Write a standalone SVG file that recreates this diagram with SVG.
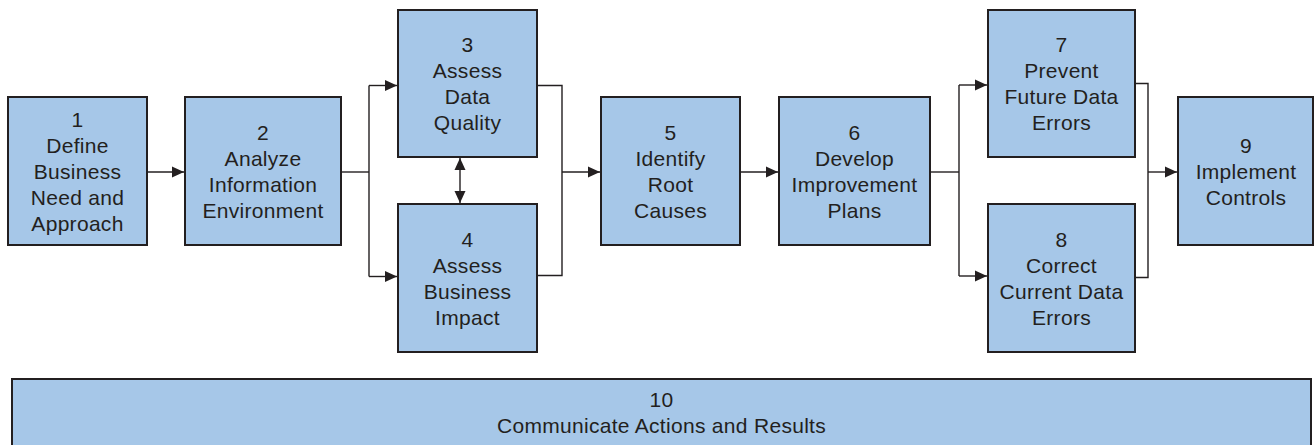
<svg xmlns="http://www.w3.org/2000/svg" width="1315" height="445" viewBox="0 0 1315 445">
<defs>
<style>
.box{fill:#a6c7e8;stroke:#231f20;stroke-width:2}
.lbl{font-family:"Liberation Sans",Arial,Helvetica,sans-serif;font-size:21px;fill:#231f20;text-anchor:middle;letter-spacing:0.3px}
.con{fill:none;stroke:#231f20;stroke-width:1.4}
</style>
<marker id="ah" viewBox="0 0 12 12" refX="12" refY="6" markerWidth="12" markerHeight="12" markerUnits="userSpaceOnUse" orient="auto-start-reverse">
<path d="M0 0.5 L12 6 L0 11.5 Z" fill="#231f20"/>
</marker>
</defs>
<rect width="1315" height="445" fill="#ffffff"/>
<g id="connectors">
<path class="con" d="M147 172 H184" marker-end="url(#ah)"/>
<path class="con" d="M341 172 H369"/>
<path class="con" d="M369 85.5 V276.5"/>
<path class="con" d="M369 85.5 H397" marker-end="url(#ah)"/>
<path class="con" d="M369 276.5 H397" marker-end="url(#ah)"/>
<path class="con" d="M460 158 V203" marker-start="url(#ah)" marker-end="url(#ah)"/>
<path class="con" d="M537 85.5 H562 V275.5 H537"/>
<path class="con" d="M562 172 H600" marker-end="url(#ah)"/>
<path class="con" d="M740 172 H778" marker-end="url(#ah)"/>
<path class="con" d="M930 172 H959"/>
<path class="con" d="M959 85 V276"/>
<path class="con" d="M959 85 H987" marker-end="url(#ah)"/>
<path class="con" d="M959 276 H987" marker-end="url(#ah)"/>
<path class="con" d="M1135 83.5 H1148 V277.5 H1135"/>
<path class="con" d="M1148 172 H1177" marker-end="url(#ah)"/>
</g>
<g id="n1"><rect class="box" x="8" y="97" width="139" height="148"/>
<text class="lbl" x="77.5" y="127">1</text><text class="lbl" x="77.5" y="153">Define</text><text class="lbl" x="77.5" y="179">Business</text><text class="lbl" x="77.5" y="205">Need and</text><text class="lbl" x="77.5" y="231">Approach</text></g>
<g id="n2"><rect class="box" x="185" y="97" width="156" height="148"/>
<text class="lbl" x="263" y="140">2</text><text class="lbl" x="263" y="166">Analyze</text><text class="lbl" x="263" y="192">Information</text><text class="lbl" x="263" y="218">Environment</text></g>
<g id="n3"><rect class="box" x="398" y="10" width="139" height="147"/>
<text class="lbl" x="467.5" y="52">3</text><text class="lbl" x="467.5" y="78">Assess</text><text class="lbl" x="467.5" y="104">Data</text><text class="lbl" x="467.5" y="130">Quality</text></g>
<g id="n4"><rect class="box" x="398" y="204" width="139" height="148"/>
<text class="lbl" x="467.5" y="247">4</text><text class="lbl" x="467.5" y="273">Assess</text><text class="lbl" x="467.5" y="299">Business</text><text class="lbl" x="467.5" y="325">Impact</text></g>
<g id="n5"><rect class="box" x="601" y="97" width="139" height="148"/>
<text class="lbl" x="670.5" y="140">5</text><text class="lbl" x="670.5" y="166">Identify</text><text class="lbl" x="670.5" y="192">Root</text><text class="lbl" x="670.5" y="218">Causes</text></g>
<g id="n6"><rect class="box" x="779" y="97" width="151" height="148"/>
<text class="lbl" x="854.5" y="140">6</text><text class="lbl" x="854.5" y="166">Develop</text><text class="lbl" x="854.5" y="192">Improvement</text><text class="lbl" x="854.5" y="218">Plans</text></g>
<g id="n7"><rect class="box" x="988" y="10" width="147" height="147"/>
<text class="lbl" x="1061.5" y="52">7</text><text class="lbl" x="1061.5" y="78">Prevent</text><text class="lbl" x="1061.5" y="104">Future Data</text><text class="lbl" x="1061.5" y="130">Errors</text></g>
<g id="n8"><rect class="box" x="988" y="204" width="147" height="148"/>
<text class="lbl" x="1061.5" y="247">8</text><text class="lbl" x="1061.5" y="273">Correct</text><text class="lbl" x="1061.5" y="299">Current Data</text><text class="lbl" x="1061.5" y="325">Errors</text></g>
<g id="n9"><rect class="box" x="1178" y="97" width="135" height="148"/>
<text class="lbl" x="1246" y="153">9</text><text class="lbl" x="1246" y="179">Implement</text><text class="lbl" x="1246" y="205">Controls</text></g>
<g id="n10"><rect class="box" x="12" y="379" width="1299" height="90"/>
<text class="lbl" x="661.5" y="407">10</text><text class="lbl" x="661.5" y="433">Communicate Actions and Results</text></g>
</svg>
